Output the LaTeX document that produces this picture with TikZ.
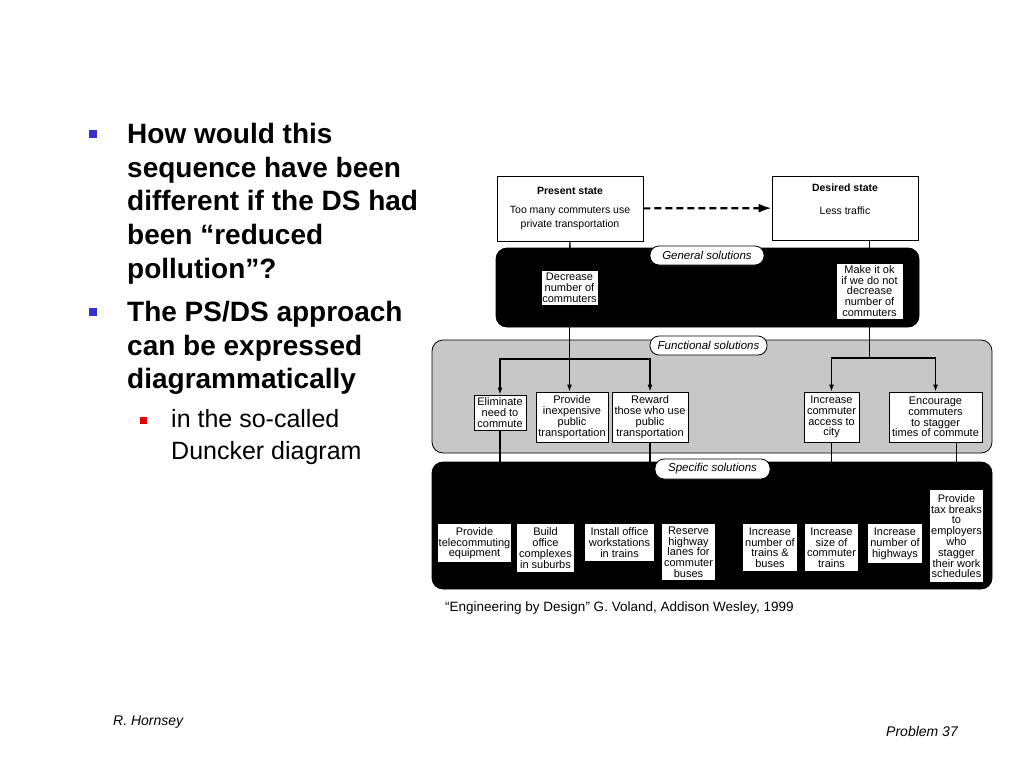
\documentclass[tikz,border=0pt]{standalone}
\usepackage{fontspec}
\setmainfont{Liberation Sans}
\usepackage{tikz}
\usetikzlibrary{shapes, arrows.meta}

\definecolor{bulletblue}{RGB}{51,51,204}
\definecolor{bulletred}{RGB}{225,0,0}

\begin{document}
\begin{tikzpicture}[x=1pt, y=-1pt,
    box/.style = {draw, fill=white, line width=0.8pt, align=center, inner sep=0.8pt, font=\fontsize{11}{10.8}\selectfont},
    sbox/.style = {fill=white, align=center, inner sep=0.8pt, anchor=north, font=\fontsize{11}{10.8}\selectfont},
    statebox/.style = {box, minimum width=146pt, font=\fontsize{10.5}{14}\selectfont},
    panel/.style = {draw, rounded corners=11pt, line width=0.8pt, inner sep=0pt},
    pill/.style = {draw, fill=white, rounded corners=9pt, line width=0.8pt, inner sep=0pt, minimum height=19pt, font=\fontsize{11.5}{12}\selectfont\itshape},
    conn/.style = {line width=1.4pt},
    arr/.style = {conn, -{Latex[length=7pt,width=5pt]}},
    sqbullet/.style = {fill=#1, inner sep=0pt, minimum size=8pt},
    maintext/.style = {align=left, inner sep=0pt, anchor=north west, font=\fontsize{28}{33.7}\selectfont\bfseries},
    subtext/.style = {align=left, inner sep=0pt, anchor=north west, font=\fontsize{25}{32}\selectfont},
    smalltext/.style = {inner sep=0pt, font=\fontsize{13.5}{16}\selectfont}]

    \useasboundingbox (0,0) rectangle (1024,768);

    % slide text
    \node[sqbullet=bulletblue] (b1) at (92.5,134) {};
    \node[maintext] (q1) at (127,123) {How would this\\ sequence have been\\ different if the DS had\\ been “reduced\\ pollution”?};
    \node[sqbullet=bulletblue] (b2) at (92.5,312) {};
    \node[maintext] (q2) at (127,301) {The PS/DS approach\\ can be expressed\\ diagrammatically};
    \node[sqbullet=bulletred, minimum size=7pt] (b3) at (143.5,420) {};
    \node[subtext] (q3) at (171,409) {in the so-called\\ Duncker diagram};

    % panels
    \node[panel, fill=black, minimum width=423pt, minimum height=79pt] (gen) at (707.5,287.5) {};
    \node[panel, fill=black!22, minimum width=560pt, minimum height=113pt] (func) at (712,396.5) {};
    \node[panel, fill=black, minimum width=560pt, minimum height=127pt] (spec) at (712,525.5) {};

    \node[pill, minimum width=114pt] (genlbl) at (707,255.5) {General solutions};
    \node[pill, minimum width=117pt] (funclbl) at (708.5,345.5) {Functional solutions};
    \node[pill, minimum width=115pt, minimum height=20pt] (speclbl) at (712.5,469) {Specific solutions};

    % states
    \node[statebox, minimum height=65pt] (ps) at (570,208.5) {\textbf{Present state}\\[5pt] Too many commuters use\\ private transportation};
    \node[statebox, minimum height=64pt] (ds) at (845,208) {\textbf{Desired state}\\[9pt] Less traffic\\ \strut};

    % general solutions
    \node[box, minimum width=57pt, minimum height=35pt] (fewer) at (569.5,287.5) {Decrease\\ number of\\ commuters};
    \node[box, minimum width=67pt, minimum height=56pt] (makeok) at (869.5,291) {Make it ok\\ if we do not\\ decrease\\ number of\\ commuters};

    % functional solutions
    \node[box, minimum width=52pt, minimum height=35pt] (elim) at (500,412.5) {Eliminate\\ need to\\ commute};
    \node[box, minimum width=72pt, minimum height=50pt] (cheap) at (572,417) {Provide\\ inexpensive\\ public\\ transportation};
    \node[box, minimum width=76pt, minimum height=50pt] (reward) at (650,417) {Reward\\ those who use\\ public\\ transportation};
    \node[box, minimum width=55pt, minimum height=50pt] (access) at (831.5,417) {Increase\\ commuter\\ access to\\ city};
    \node[box, minimum width=93pt, minimum height=50pt] (stagger) at (935.5,417) {Encourage\\ commuters\\ to stagger\\ times of commute};

    % specific solutions
    \node[sbox, minimum width=73pt, minimum height=38pt] (tele) at (474.5,524) {Provide\\ telecommuting\\ equipment};
    \node[sbox, minimum width=57pt, minimum height=48pt] (suburb) at (545.5,524) {Build\\ office\\ complexes\\ in suburbs};
    \node[sbox, minimum width=69pt, minimum height=37pt] (trainoffice) at (619.5,524) {Install office\\ workstations\\ in trains};
    \node[sbox, minimum width=53pt, minimum height=56pt] (lanes) at (688.5,524) {Reserve\\ highway\\ lanes for\\ commuter\\ buses};
    \node[sbox, minimum width=54pt, minimum height=47pt] (moretrains) at (770,524) {Increase\\ number of\\ trains \&\\ buses};
    \node[sbox, minimum width=53pt, minimum height=47pt] (biggertrains) at (831.5,524) {Increase\\ size of\\ commuter\\ trains};
    \node[sbox, minimum width=54pt, minimum height=39pt] (highways) at (895,524) {Increase\\ number of\\ highways};
    \node[sbox, minimum width=53pt, minimum height=92pt] (taxbreak) at (956.5,490) {Provide\\ tax breaks\\ to\\ employers\\ who\\ stagger\\ their work\\ schedules};

    % connectors
    \draw [line width=2.2pt, dash pattern=on 7pt off 4pt, -{Latex[length=13pt,width=9pt]}] (ps) -- (ds);

    \draw [conn] (ps.south) -- (fewer.north);
    \draw [conn] (ds.south -| makeok.north) -- (makeok.north);

    \coordinate (lsplit) at (fewer.south |- 0,359);
    \coordinate (rsplit) at (makeok.south |- 0,358);
    \draw [arr] (fewer.south) -- (fewer.south |- cheap.north);
    \draw [arr] (lsplit) -| (elim.north);
    \draw [arr] (lsplit) -| (reward.north);
    \draw [conn] (makeok.south) -- (rsplit);
    \draw [arr] (rsplit) -| (access.north);
    \draw [arr] (rsplit) -| (stagger.north);

    \draw [conn] (elim.south) -- (elim.south |- spec.north);
    \draw [conn] (reward.south) -- (reward.south |- spec.north);
    \draw [conn] (access.south) -- (access.south |- spec.north);
    \draw [conn] (stagger.south -| taxbreak.north) -- (taxbreak.north);

    % source and footer
    \node[smalltext, anchor=west] (src) at (445,607.5) {“Engineering by Design” G. Voland, Addison Wesley, 1999};
    \node[smalltext, anchor=west, font=\fontsize{14}{16}\selectfont\itshape] (author) at (113,722) {R. Hornsey};
    \node[smalltext, anchor=east, font=\fontsize{14}{16}\selectfont\itshape] (page) at (958,731) {Problem 37};
\end{tikzpicture}
\end{document}
